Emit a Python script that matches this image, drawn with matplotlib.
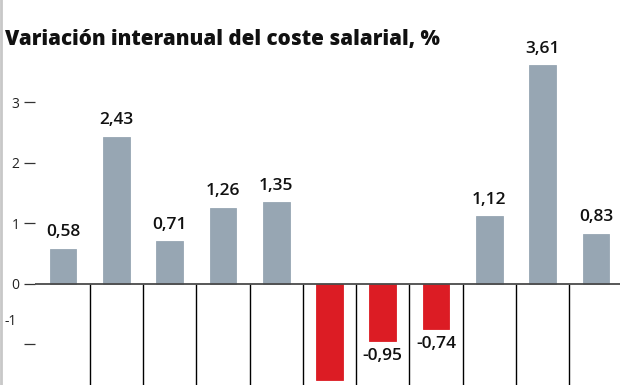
import matplotlib.pyplot as plt
from matplotlib.lines import Line2D
import numpy as np

# bar values (sixth bar runs off the bottom and has no visible label)
values = [0.58, 2.43, 0.71, 1.26, 1.35, -1.59, -0.95, -0.74, 1.12, 3.61, 0.83]
labels = ['0,58', '2,43', '0,71', '1,26', '1,35', '', '-0,95', '-0,74', '1,12', '3,61', '0,83']
ytick_vals = [-1, 0, 1, 2, 3]
ytick_labels = ['', '0', '1', '2', '3']
title = 'Variación interanual del coste salarial, %'

grey = '#97a6b3'
red = '#dc1c24'

W, H = 620, 385
fig = plt.figure(figsize=(W / 100, H / 100), dpi=100)
ax = fig.add_axes([35 / W, 0, 1 - 35 / W, 1])

x = np.arange(len(values))
colors = [red if v < 0 else grey for v in values]
ax.bar(x, values, width=0.5, color=colors, edgecolor=colors, linewidth=0.6, zorder=2)

ax.set_xlim(-0.525, 10.45)
ax.set_ylim(-1.67, 4.69)

# zero line and column separators below it
ax.axhline(0, color='#4a4a4a', lw=1.3, zorder=3)
ax.vlines(x[:-1] + 0.5, -1.67, 0, color='black', lw=1.0, zorder=1)

for xi, v, lab in zip(x, values, labels):
    if not lab:
        continue
    if v >= 0:
        ax.annotate(lab, (xi, v), xytext=(0, 6), textcoords='offset points',
                    ha='center', va='bottom', fontsize=12.5, fontweight='semibold',
                    color='#111111', family='Open Sans')
    else:
        ax.annotate(lab, (xi, v), xytext=(0, -5), textcoords='offset points',
                    ha='center', va='top', fontsize=12.5, fontweight='semibold',
                    color='#111111', family='Open Sans')

for s in ax.spines.values():
    s.set_visible(False)
ax.set_xticks([])
ax.set_yticks(ytick_vals)
ax.set_yticklabels(ytick_labels, family='Open Sans', fontsize=10, color='#222222')
ax.tick_params(axis='y', direction='out', length=8, width=0.9, color='#333333', pad=3)
# the "-1" label sits above its tick in the original
ax.annotate('-1', (-0.525, -0.62), xytext=(-18, 0), textcoords='offset pixels',
            ha='right', va='center', fontsize=10, color='#222222',
            family='Open Sans', annotation_clip=False)
ax.set_facecolor('none')

fig.text(5 / W, 1 - 40 / H, title, ha='left', va='center', fontsize=14.8,
         fontweight='heavy', family='Open Sans', color='#111111')
fig.add_artist(Line2D([1 / W, 1 / W], [0, 1], color='#c8c8c8', lw=2,
                      transform=fig.transFigure))

fig.savefig('out.png', dpi=100)
